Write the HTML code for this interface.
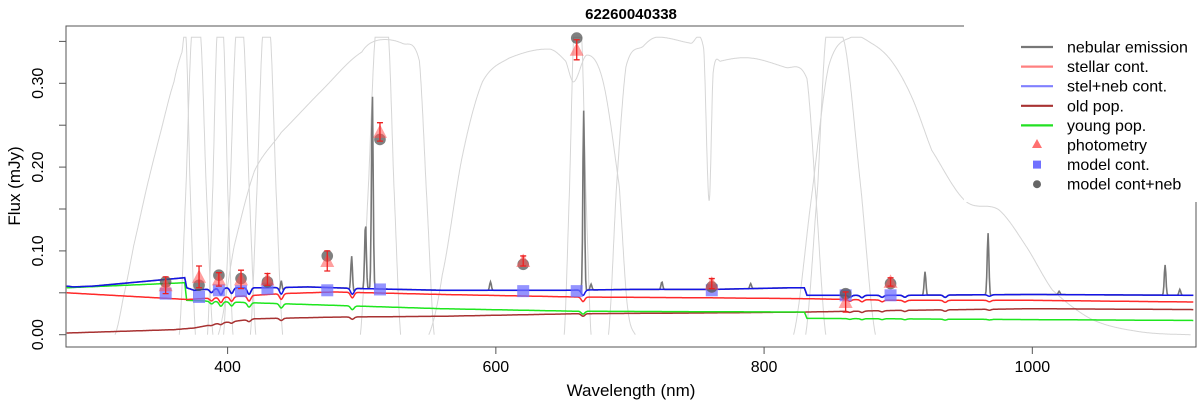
<!DOCTYPE html>
<html><head><meta charset="utf-8">
<style>
html,body{margin:0;padding:0;background:#fff;}
svg{display:block;font-family:"Liberation Sans",Arial,sans-serif;}
</style></head>
<body>
<svg id="chart" width="1200" height="406" viewBox="0 0 1200 406" xmlns="http://www.w3.org/2000/svg">
  <text x="631" y="19" text-anchor="middle" font-size="15" font-weight="bold">62260040338</text>
  <g id="filters"></g>
  <g id="series"></g>
  <g id="points"></g>
  <rect x="66" y="26" width="1130" height="321" fill="none" stroke="#555" stroke-width="1"/>
  <g id="axes"></g>
  <text x="631" y="396" text-anchor="middle" font-size="17">Wavelength (nm)</text>
  <text transform="translate(20,186) rotate(-90)" text-anchor="middle" font-size="17">Flux (mJy)</text>
  <g id="legend"></g>
</svg>
<script>
// ---- data ----
const xTicks = [400, 600, 800, 1000];
const yTicks = [0, 0.05, 0.10, 0.15, 0.20, 0.25, 0.30, 0.35];
const yTickLabels = ["0.00", "", "0.10", "", "0.20", "", "0.30", ""];

const blueWl = [280, 285, 300, 368, 369.5, 375, 400, 430, 460, 500, 560, 650, 700, 760, 820, 830, 832, 900, 1000, 1120];
const blueFx = [0.058, 0.057, 0.058, 0.068, 0.056, 0.053, 0.056, 0.056, 0.057, 0.055, 0.053, 0.053, 0.054, 0.054, 0.056, 0.056, 0.047, 0.047, 0.048, 0.047];
const redWl = [280, 370, 400, 440, 480, 560, 660, 760, 830, 900, 1000, 1120];
const redFx = [0.050, 0.042, 0.045, 0.049, 0.051, 0.048, 0.045, 0.044, 0.043, 0.041, 0.041, 0.039];
const greenWl = [280, 368, 369.5, 420, 480, 560, 660, 830, 832, 1000, 1120];
const greenFx = [0.056, 0.062, 0.041, 0.038, 0.035, 0.031, 0.028, 0.027, 0.0195, 0.018, 0.017];
const oldWl = [280, 360, 375, 395, 420, 480, 560, 660, 760, 830, 900, 1000, 1120];
const oldFx = [0.002, 0.006, 0.008, 0.014, 0.019, 0.021, 0.022, 0.025, 0.026, 0.027, 0.029, 0.031, 0.030];
const dipWl = [388, 395, 403, 416, 440, 493, 665, 864, 873, 888, 905, 935, 968];
const dipDepth = [0.08, 0.14, 0.12, 0.14, 0.14, 0.13, 0.12, 0.05, 0.06, 0.05, 0.05, 0.06, 0.04];
const lineWl = [440, 492.5, 502.8, 507.9, 596, 665.5, 671, 723.8, 790, 920, 967, 1020, 1099, 1110];
const linePeak = [0.069, 0.098, 0.131, 0.285, 0.063, 0.273, 0.060, 0.062, 0.059, 0.081, 0.128, 0.057, 0.089, 0.060];

const photWl = [353.8, 378.7, 393.5, 410, 429.7, 474.3, 513.6, 620.4, 660.3, 761, 860.8, 894.3];
const photFx = [0.059, 0.069, 0.066, 0.066, 0.066, 0.088, 0.242, 0.088, 0.340, 0.061, 0.039, 0.063];
const photErr = [0.010, 0.013, 0.008, 0.011, 0.007, 0.012, 0.011, 0.006, 0.012, 0.006, 0.012, 0.005];
const modelContFx = [0.049, 0.045, 0.053, 0.052, 0.055, 0.053, 0.054, 0.052, 0.052, 0.053, 0.047, 0.047];
const modelNebFx = [0.063, 0.059, 0.071, 0.067, 0.063, 0.094, 0.233, 0.084, 0.354, 0.057, 0.049, 0.061];

const filterWl = [
  [316, 322, 330, 340, 350, 360, 366, 369, 372, 376],
  [364, 369, 373, 380, 384, 389],
  [385, 389, 392, 397, 400, 404],
  [397, 402, 406, 412, 416, 421],
  [417, 422, 426, 432, 436, 441],
  [393, 405, 420, 440, 470, 500, 512, 530, 543, 548, 554],
  [499, 505, 510, 520, 524, 529],
  [550, 560, 575, 590, 610, 640, 652, 658, 668, 680, 692, 698, 704],
  [651, 655, 658, 664, 667, 671],
  [684, 690, 697, 710, 720, 745, 755, 759, 762, 768, 790, 815, 832, 838, 846],
  [831, 840, 846, 860, 872, 883],
  [822, 835, 848, 865, 880, 895, 910, 925, 950, 975, 995, 1015, 1045, 1080, 1118]
];
const filterTr = [
  [0, 0.12, 0.3, 0.5, 0.68, 0.85, 0.95, 1.0, 0.5, 0],
  [0, 0.5, 1.0, 1.0, 0.5, 0],
  [0, 0.5, 1.0, 1.0, 0.5, 0],
  [0, 0.5, 1.0, 1.0, 0.5, 0],
  [0, 0.5, 1.0, 1.0, 0.5, 0],
  [0, 0.3, 0.55, 0.68, 0.82, 0.95, 0.99, 0.98, 0.92, 0.5, 0],
  [0, 0.5, 1.0, 1.0, 0.5, 0],
  [0, 0.2, 0.6, 0.85, 0.93, 0.96, 0.92, 0.85, 0.94, 0.85, 0.5, 0.1, 0],
  [0, 0.5, 1.0, 1.0, 0.5, 0],
  [0, 0.5, 0.9, 0.97, 1.0, 0.98, 0.96, 0.45, 0.88, 0.92, 0.93, 0.9, 0.86, 0.5, 0],
  [0, 0.5, 1.0, 0.98, 0.5, 0],
  [0, 0.45, 0.9, 1.0, 0.98, 0.92, 0.8, 0.62, 0.45, 0.42, 0.3, 0.15, 0.05, 0.01, 0]
];

const legendLabels = ["nebular emission", "stellar cont.", "stel+neb cont.", "old pop.", "young pop.", "photometry", "model cont.", "model cont+neb"];

// ---- scales ----
const X0 = 279.5, X1 = 1121, PX0 = 66, PX1 = 1194.6;
function sx(w) { return PX0 + (w - X0) * (PX1 - PX0) / (X1 - X0); }
function sy(f) { return 334.7 - f * 838; }
const NS = "http://www.w3.org/2000/svg";
function mk(tag, parent, attrs) {
  const e = document.createElementNS(NS, tag);
  for (const k in attrs) e.setAttribute(k, attrs[k]);
  parent.appendChild(e);
  return e;
}
function interp(wl, fx, w) {
  if (w <= wl[0]) return fx[0];
  for (let i = 1; i < wl.length; i++) {
    if (w <= wl[i]) { const t = (w - wl[i-1]) / (wl[i] - wl[i-1]); return fx[i-1] + t * (fx[i] - fx[i-1]); }
  }
  return fx[fx.length - 1];
}
function smoothInterp(wl, tr, w) {
  const n = wl.length;
  if (w <= wl[0]) return tr[0];
  if (w >= wl[n-1]) return tr[n-1];
  let i = 1; while (w > wl[i]) i++;
  const t = (w - wl[i-1]) / (wl[i] - wl[i-1]);
  const p0 = tr[Math.max(0, i-2)], p1 = tr[i-1], p2 = tr[i], p3 = tr[Math.min(n-1, i+1)];
  const v = 0.5 * (2*p1 + (-p0 + p2)*t + (2*p0 - 5*p1 + 4*p2 - p3)*t*t + (-p0 + 3*p1 - 3*p2 + p3)*t*t*t);
  return Math.max(0, Math.min(1, v));
}
function dipFactor(w) {
  let f = 1;
  for (let i = 0; i < dipWl.length; i++) { const d = (w - dipWl[i]) / 1.8; f *= 1 - dipDepth[i] * Math.exp(-d * d); }
  return f;
}
function grid() { const g = []; for (let w = 280; w <= 1120; w += 0.5) g.push(w); return g; }

// ---- filters ----
const fg = document.getElementById('filters');
for (let i = 0; i < filterWl.length; i++) {
  let d = "";
  const wl = filterWl[i], tr = filterTr[i];
  for (let w = wl[0]; w <= wl[wl.length-1]; w += 0.25) {
    const v = smoothInterp(wl, tr, w) * 0.355;
    d += (d ? "L" : "M") + sx(w).toFixed(1) + "," + sy(v).toFixed(1);
  }
  const p = mk('path', fg, { d: d, fill: "none", stroke: "#d6d6d6", "stroke-width": 1 });
  
  
}

// ---- series ----
const sg = document.getElementById('series');
function drawSeries(wl, fx, color, name, withLines) {
  let d = "";
  grid().forEach(w => {
    let v = interp(wl, fx, w) * dipFactor(w);
    if (withLines) {
      for (let i = 0; i < lineWl.length; i++) { const dd = (w - lineWl[i]) / 0.9; v += (linePeak[i] - 0.053) * Math.exp(-dd * dd); }
    }
    d += (d ? "L" : "M") + sx(w).toFixed(1) + "," + sy(v).toFixed(1);
  });
  const p = mk('path', sg, { d: d, fill: "none", stroke: color, "stroke-width": withLines ? 1.6 : 1.5 });
  
  
}
drawSeries(blueWl, blueFx, "#777", "nebular-emission-line", true);
drawSeries(oldWl, oldFx, "#a83232", "old-pop-line", false);
drawSeries(greenWl, greenFx, "#1ee61e", "young-pop-line", false);
drawSeries(redWl, redFx, "#ff2a2a", "stellar-cont-line", false);
drawSeries(blueWl, blueFx, "#1414e6", "stel-neb-cont-line", false);

// ---- points ----
const pg = document.getElementById('points');
for (let i = 0; i < photWl.length; i++) {
  const x = sx(photWl[i]);
  const sq = mk('rect', pg, { x: x - 6, y: sy(modelContFx[i]) - 6, width: 12, height: 12, fill: "#7070ff", "fill-opacity": 0.75 });
  
  
}
for (let i = 0; i < photWl.length; i++) {
  const x = sx(photWl[i]);
  const c = mk('circle', pg, { cx: x, cy: sy(modelNebFx[i]), r: 5.8, fill: "#555", "fill-opacity": 0.75 });
  
  
}
for (let i = 0; i < photWl.length; i++) {
  const x = sx(photWl[i]), y = sy(photFx[i]);
  const t = mk('path', pg, { d: `M${x-7},${y+6}L${x+7},${y+6}L${x},${y-7.5}Z`, fill: "#ff5050", "fill-opacity": 0.55 });
  
  
  const y1 = sy(photFx[i] + photErr[i]), y2 = sy(photFx[i] - photErr[i]);
  const e = mk('path', pg, { d: `M${x},${y1}L${x},${y2}M${x-3},${y1}L${x+3},${y1}M${x-3},${y2}L${x+3},${y2}`, stroke: "#ee2020", "stroke-width": 1.3, fill: "none" });
  
  
}

// ---- axes ----
const ag = document.getElementById('axes');
xTicks.forEach(v => {
  const x = sx(v);
  const l = mk('line', ag, { x1: x, x2: x, y1: 347, y2: 354, stroke: "#555" });
  
  
  const t = mk('text', ag, { x: x, y: 372, "text-anchor": "middle", "font-size": 16 });
  t.textContent = String(v);
  
  
});
yTicks.forEach((v, i) => {
  const y = sy(v);
  const l = mk('line', ag, { x1: 59, x2: 66, y1: y, y2: y, stroke: "#555" });
  
  
  if (yTickLabels[i]) {
    const t = mk('text', ag, { transform: `translate(43,${y}) rotate(-90)`, "text-anchor": "middle", "font-size": 16 });
    t.textContent = yTickLabels[i];
    
    
  }
});

// ---- legend ----
const lg = document.getElementById('legend');
const bg = mk('rect', lg, { x: 964, y: 25, width: 236, height: 177, fill: "#fff" });


const legColors = ["#777", "#ff8080", "#8080ff", "#a83232", "#22e022"];
legendLabels.forEach((lab, i) => {
  const y = 47 + i * 19.6;
  let m;
  if (i < 5) m = mk('line', lg, { x1: 1021, x2: 1053, y1: y, y2: y, stroke: legColors[i], "stroke-width": 2.2 });
  else if (i === 5) m = mk('path', lg, { d: `M${1037-5},${y+3}L${1037+5},${y+3}L1037,${y-6}Z`, fill: "#ff7070" });
  else if (i === 6) m = mk('rect', lg, { x: 1033, y: y - 4, width: 8, height: 8, fill: "#7070ff" });
  else m = mk('circle', lg, { cx: 1037, cy: y, r: 4, fill: "#666" });
  
  
  const t = mk('text', lg, { x: 1067, y: y + 5.5, "font-size": 16 });
  t.textContent = lab;
  
  
});
const rb = mk('line', lg, { x1: 1196, x2: 1196, y1: 202, y2: 347, stroke: "#555" });


</script>
</body></html>
